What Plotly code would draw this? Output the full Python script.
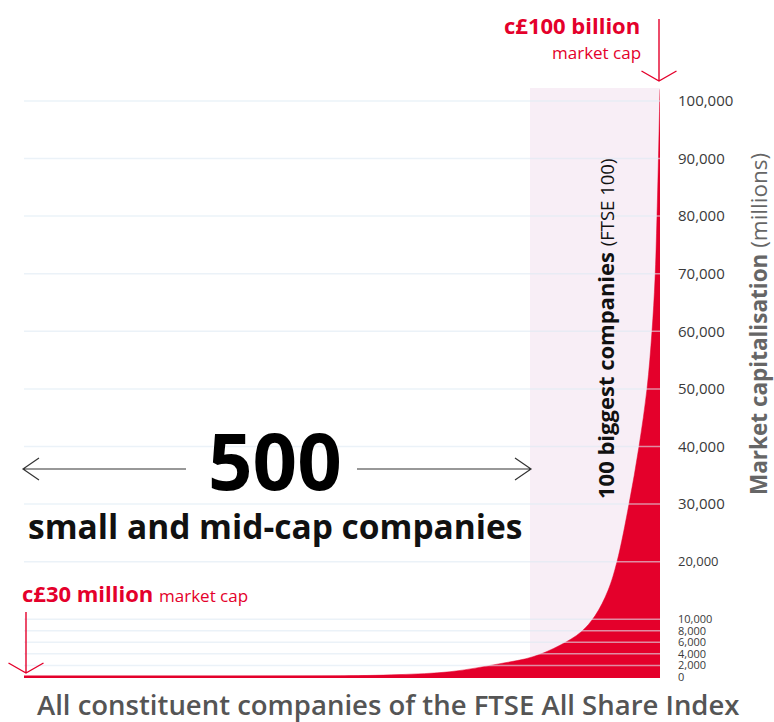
import plotly.graph_objects as go

# ---------------- data ----------------
n_companies = 636            # constituents, ranked smallest -> largest
ftse100_start_rank = 506     # where the FTSE 100 block begins on the chart

rank = [0, 126, 226, 306, 343, 376, 426, 476, 509, 536, 557, 571, 584, 593,
        605, 615, 623, 628, 631, 633, 636]
market_cap_m = [30, 50, 80, 150, 250, 400, 900, 2300, 3500, 5500, 7800,
                10600, 15000, 20000, 30000, 40000, 50000, 60000, 69000,
                80000, 102000]

ticks_large = [30000, 40000, 50000, 60000, 70000, 80000, 90000, 100000]
ticks_mid = [20000]
ticks_small = [0, 2000, 4000, 6000, 8000, 10000]
grid_values = [2000, 4000, 6000, 8000, 10000, 20000, 30000, 40000, 50000,
               60000, 70000, 80000, 90000, 100000]

# ---------------- style ----------------
RED = "#E4002B"
PINK = "#F8EEF6"
FONT = "Open Sans"
W, H = 774, 722
L, R, T, B = 24, 114, 88, 44
PW, PH = W - L - R, H - T - B
Y_RANGE = [-190, 102240]


def px(xp):
    return (xp - L) / PW


def py(yp):
    return (H - B - yp) / PH


def path(points_list):
    s = ""
    for pts in points_list:
        for i, (a, b) in enumerate(pts):
            s += ("M" if i == 0 else "L") + f"{px(a):.5f},{py(b):.5f} "
    return s.strip()


fig = go.Figure()

fig.add_trace(go.Scatter(
    x=rank, y=market_cap_m, mode="lines", fill="tozeroy",
    fillcolor=RED, line=dict(color=RED, width=0.5, shape="spline",
                             smoothing=1.0),
    hoverinfo="skip", showlegend=False,
))
# invisible anchors so the extra tick-label axes are drawn
for ax in ("y2", "y3"):
    fig.add_trace(go.Scatter(x=[0], y=[0], yaxis=ax, mode="markers",
                             marker=dict(opacity=0), hoverinfo="skip",
                             showlegend=False))

shapes = []
# FTSE 100 block
shapes.append(dict(type="rect", xref="x", yref="paper",
                   x0=ftse100_start_rank, x1=n_companies, y0=0, y1=1,
                   fillcolor=PINK, line=dict(width=0), layer="below"))
# grid lines drawn over the fill
for v in grid_values:
    shapes.append(dict(type="line", xref="paper", yref="y", x0=0, x1=1,
                       y0=v, y1=v, layer="above",
                       line=dict(color="rgba(222,234,244,0.6)", width=1.5)))
# baseline
shapes.append(dict(type="line", xref="x", yref="y", x0=0, x1=n_companies,
                   y0=0, y1=0, layer="above",
                   line=dict(color=RED, width=3)))
# arrows (decorations)
shapes.append(dict(type="path", xref="paper", yref="paper",
                   path=path([[(659, 19), (659, 81)],
                              [(641.5, 71), (659, 81), (676.5, 71)]]),
                   line=dict(color=RED, width=1.4)))
shapes.append(dict(type="path", xref="paper", yref="paper",
                   path=path([[(26, 612), (26, 673)],
                              [(8.5, 663), (26, 673), (43.5, 663)]]),
                   line=dict(color=RED, width=1.4)))
shapes.append(dict(type="path", xref="paper", yref="paper",
                   path=path([[(186, 469), (23, 469)],
                              [(39, 458), (23, 469), (39, 480)]]),
                   line=dict(color="#333333", width=1.2)))
shapes.append(dict(type="path", xref="paper", yref="paper",
                   path=path([[(357, 469), (531, 469)],
                              [(515, 458), (531, 469), (515, 480)]]),
                   line=dict(color="#333333", width=1.2)))

annotations = []


def ann(text, xp, yp, size, color, xanchor="center", yanchor="middle",
        angle=0, weight="normal"):
    annotations.append(dict(
        text=text, x=px(xp), y=py(yp), xref="paper", yref="paper",
        xanchor=xanchor, yanchor=yanchor, showarrow=False, textangle=angle,
        font=dict(family=FONT, size=size, color=color, weight=weight)))


ann("<b>c£100 billion</b>", 642, 25, 22, RED, xanchor="right")
ann("market cap", 643, 52, 17, RED, xanchor="right")
ann("<b>c£30 million</b> <span style='font-size:17px'>market cap</span>",
    20, 593, 22, RED, xanchor="left")
ann("<b>500</b>", 275, 460, 78, "#000000")
ann("<b>small and mid-cap companies</b>", 275, 526, 33.5, "#111111")
ann("<b>100 biggest companies</b> <span style='font-size:18.5px'>(FTSE 100)</span>",
    605, 329, 22, "#111111", angle=-90)
ann("<b>Market capitalisation</b> (millions)", 758, 324, 22.5, "#666666",
    angle=-90)
ann("All constituent companies of the FTSE All Share Index", 388, 704, 27.5,
    "#555555", weight=600)

fig.update_layout(
    width=W, height=H,
    margin=dict(l=L, r=R, t=T, b=B, pad=0),
    paper_bgcolor="white", plot_bgcolor="white",
    showlegend=False,
    shapes=shapes, annotations=annotations,
    xaxis=dict(range=[0, n_companies], visible=False, fixedrange=True),
    yaxis=dict(range=Y_RANGE, side="right", showgrid=False, zeroline=False,
               showline=False, ticks="", tickvals=ticks_large,
               ticktext=[f"{v:,}" for v in ticks_large],
               tickfont=dict(family=FONT, size=15, color="#3a3a3a"),
               ticklabelstandoff=17, fixedrange=True),
    yaxis2=dict(range=Y_RANGE, side="right", overlaying="y", anchor="x",
                showgrid=False, zeroline=False, showline=False, ticks="",
                tickvals=ticks_mid, ticktext=[f"{v:,}" for v in ticks_mid],
                tickfont=dict(family=FONT, size=13, color="#3a3a3a"),
                ticklabelstandoff=17, fixedrange=True),
    yaxis3=dict(range=Y_RANGE, side="right", overlaying="y", anchor="x",
                showgrid=False, zeroline=False, showline=False, ticks="",
                tickvals=ticks_small, ticktext=[f"{v:,}" for v in ticks_small],
                tickfont=dict(family=FONT, size=11, color="#3a3a3a"),
                ticklabelstandoff=17, fixedrange=True),
)

fig.write_html("out.html")
